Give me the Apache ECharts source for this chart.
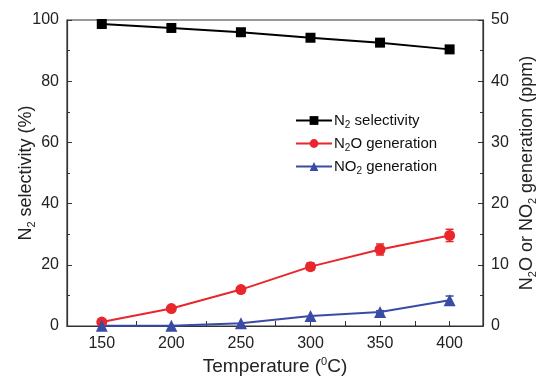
<!DOCTYPE html>
<html><head><meta charset="utf-8">
<script src="https://cdn.jsdelivr.net/npm/echarts@6/dist/echarts.min.js"></script>
<style>html,body{margin:0;padding:0;background:#fff}#c{width:537px;height:378px}</style>
</head><body><div id="c"></div>
<script>
const temperatures = [150, 200, 250, 300, 350, 400];
const n2Selectivity = [98.7, 97.4, 96.0, 94.2, 92.6, 90.4];
const n2oGeneration = [0.65, 2.85, 5.95, 9.7, 12.5, 14.8];
const n2oError = [0, 0, 0.3, 0.6, 0.9, 1.0];
const no2Generation = [0.05, 0.05, 0.45, 1.65, 2.3, 4.2];
const no2Error = [0, 0, 0, 0, 0.2, 0.7];
const leftTicks = [0, 20, 40, 60, 80, 100];
const rightTicks = [0, 10, 20, 30, 40, 50];
const xTickLabels = ['150', '200', '250', '300', '350', '400'];

const font = 'Liberation Sans, Arial, sans-serif';
const RED = '#e8262b', BLUE = '#3a4ba5', BLACK = '#000';
const rich = {
  n: {fontFamily: font, fontSize: 18, color: '#222'},
  sub: {fontFamily: font, fontSize: 11, color: '#222', padding: [10, 0, 0, 0]},
  sup: {fontFamily: font, fontSize: 11, color: '#222', padding: [0, 0, 9, 0]}
};
const xrich = {
  n: {fontFamily: font, fontSize: 19, color: '#222'},
  sup: {fontFamily: font, fontSize: 11, color: '#222', padding: [0, 0, 10, 0]}
};
const lrich = {
  n: {fontFamily: font, fontSize: 15, color: '#111'},
  sub: {fontFamily: font, fontSize: 10, color: '#111', padding: [9, 0, 0, 0]}
};
const legendText = {
  'N2 selectivity': '{n|N}{sub|2}{n| selectivity}',
  'N2O generation': '{n|N}{sub|2}{n|O generation}',
  'NO2 generation': '{n|NO}{sub|2}{n| generation}'
};

function errSeries(vals, errs, color) {
  const data = temperatures.map((t, i) => [t, vals[i] - errs[i], vals[i] + errs[i]]).filter((d, i) => errs[i] > 0);
  return {
    type: 'custom', yAxisIndex: 1, z: 1, silent: true,
    renderItem: function (params, api) {
      const x = api.value(0);
      const lo = api.coord([x, api.value(1)]);
      const hi = api.coord([x, api.value(2)]);
      const w = 4;
      const st = {stroke: color, lineWidth: 1.5};
      return {type: 'group', children: [
        {type: 'line', shape: {x1: lo[0], y1: lo[1], x2: hi[0], y2: hi[1]}, style: st},
        {type: 'line', shape: {x1: lo[0] - w, y1: lo[1], x2: lo[0] + w, y2: lo[1]}, style: st},
        {type: 'line', shape: {x1: hi[0] - w, y1: hi[1], x2: hi[0] + w, y2: hi[1]}, style: st}
      ]};
    },
    encode: {x: 0, y: [1, 2]},
    data: data
  };
}

const axisCommon = {
  axisLine: {show: true, lineStyle: {color: '#333', width: 1.2}},
  axisTick: {show: true, inside: true, length: 5, lineStyle: {color: '#333'}},
  minorTick: {show: true, splitNumber: 2, length: 3, lineStyle: {color: '#333'}},
  splitLine: {show: false},
  nameMoveOverlap: false,
  axisLabel: {fontFamily: font, fontSize: 16, color: '#222'}
};

const chart = echarts.init(document.getElementById('c'));
chart.setOption({
  animation: false,
  backgroundColor: '#fff',
  grid: {left: 67, right: 54, top: 20, bottom: 52, show: true, borderColor: '#333', borderWidth: 1.2,
    containLabel: false, outerBoundsMode: 'none'},
  legend: {
    orient: 'vertical', left: 290, top: 108, itemGap: 6, itemWidth: 36, itemHeight: 11,
    data: ['N2 selectivity', 'N2O generation', 'NO2 generation'],
    formatter: name => legendText[name],
    textStyle: {rich: lrich, padding: [0, 0, 0, -3]}
  },
  xAxis: Object.assign({}, axisCommon, {
    type: 'value', min: 125, max: 424, interval: 25,
    minorTick: {show: false},
    axisLabel: {fontFamily: font, fontSize: 16, color: '#222', margin: 10,
      formatter: v => { const i = temperatures.indexOf(v); return i >= 0 ? xTickLabels[i] : ''; }},
    name: '{n|Temperature (}{sup|0}{n|C)}', nameLocation: 'middle', nameGap: 30,
    nameTextStyle: {rich: xrich}
  }),
  yAxis: [
    Object.assign({}, axisCommon, {
      type: 'value', min: leftTicks[0], max: leftTicks[leftTicks.length - 1], interval: 20,
      name: '{n|N}{sub|2}{n| selectivity (%)}', nameLocation: 'middle', nameGap: 30, nameRotate: 90,
      nameTextStyle: {rich: rich}
    }),
    Object.assign({}, axisCommon, {
      type: 'value', min: rightTicks[0], max: rightTicks[rightTicks.length - 1], interval: 10, position: 'right',
      name: '{n|N}{sub|2}{n|O or NO}{sub|2}{n| generation (ppm)}', nameLocation: 'middle', nameGap: 34, nameRotate: 90,
      nameTextStyle: {rich: rich}
    })
  ],
  series: [
    {name: 'N2 selectivity', type: 'line', yAxisIndex: 0, data: temperatures.map((t, i) => [t, n2Selectivity[i]]),
      symbol: 'rect', symbolSize: 10, lineStyle: {color: BLACK, width: 2}, itemStyle: {color: BLACK}, z: 3},
    {name: 'N2O generation', type: 'line', yAxisIndex: 1, data: temperatures.map((t, i) => [t, n2oGeneration[i]]),
      symbol: 'circle', symbolSize: 11, lineStyle: {color: RED, width: 2}, itemStyle: {color: RED}, z: 3},
    {name: 'NO2 generation', type: 'line', yAxisIndex: 1, data: temperatures.map((t, i) => [t, no2Generation[i]]),
      symbol: 'triangle', symbolSize: 12, lineStyle: {color: BLUE, width: 2}, itemStyle: {color: BLUE}, z: 3},
    errSeries(n2oGeneration, n2oError, RED),
    errSeries(no2Generation, no2Error, BLUE)
  ]
});
</script></body></html>
